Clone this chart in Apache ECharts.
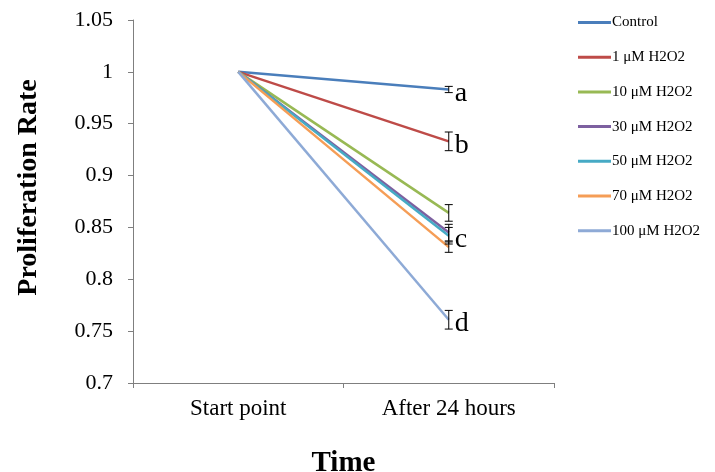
<!DOCTYPE html>
<html><head><meta charset="utf-8">
<script src="https://cdn.jsdelivr.net/npm/echarts@6/dist/echarts.min.js"></script>
<style>html,body{margin:0;padding:0;background:#fff}#c{width:715px;height:472px}</style>
</head><body><div id="c"></div>
<script>
const categories = ['Start point', 'After 24 hours'];
const seriesNames = ['Control', '1 μM H2O2', '10 μM H2O2', '30 μM H2O2', '50 μM H2O2', '70 μM H2O2', '100 μM H2O2'];
const startValues = [1, 1, 1, 1, 1, 1, 1];
const endValues = [0.983, 0.933, 0.864, 0.845, 0.842, 0.831, 0.761];
const endErrors = [0.003, 0.009, 0.008, 0.008, 0.008, 0.005, 0.009];
const groupLetters = ['a', 'b', '', '', 'c', '', 'd'];
const colors = ['#4a7ebb', '#be4b48', '#98b954', '#7d60a0', '#46aac5', '#f59d56', '#8eaad6'];
const yTicks = { min: 0.7, max: 1.05, interval: 0.05 };

const serif = 'Liberation Serif, Times New Roman, serif';
const series = seriesNames.map((name, i) => ({
  name, type: 'line', data: [startValues[i], endValues[i]],
  showSymbol: false, symbol: 'none', z: 3,
  lineStyle: { color: colors[i], width: 2.5 }, itemStyle: { color: colors[i] },
  endLabel: { show: !!groupLetters[i], formatter: () => groupLetters[i], color: '#000',
    fontFamily: serif, fontSize: 28, distance: 6, offset: [0, 4] }
}));
series.push({
  type: 'custom', name: 'err', z: 4, silent: true,
  data: endValues.map((v, i) => [1, v, endErrors[i]]),
  renderItem: (params, api) => {
    const x = api.value(0), v = api.value(1), e = api.value(2);
    const top = api.coord([x, v + e]), bot = api.coord([x, v - e]);
    const w = 4;
    const st = { stroke: '#000', lineWidth: 1 };
    return { type: 'group', children: [
      { type: 'line', shape: { x1: top[0], y1: top[1], x2: bot[0], y2: bot[1] }, style: st },
      { type: 'line', shape: { x1: top[0]-w, y1: top[1], x2: top[0]+w, y2: top[1] }, style: st },
      { type: 'line', shape: { x1: bot[0]-w, y1: bot[1], x2: bot[0]+w, y2: bot[1] }, style: st }
    ]};
  }
});

const chart = echarts.init(document.getElementById('c'));
chart.setOption({
  animation: false,
  color: colors,
  grid: { left: 133, right: 161, top: 20, bottom: 89, outerBoundsMode: 'none', containLabel: false },
  legend: {
    orient: 'vertical', left: 578, top: 15, padding: 0, itemGap: 19.7,
    data: seriesNames, icon: 'rect', itemWidth: 33, itemHeight: 3,
    textStyle: { fontFamily: serif, fontSize: 15, color: '#000', padding: [0, 0, 0, -4] }
  },
  xAxis: {
    type: 'category', data: categories, boundaryGap: true,
    name: 'Time', nameLocation: 'middle', nameGap: 66,
    nameTextStyle: { fontFamily: serif, fontSize: 29, fontWeight: 'bold', color: '#000' },
    axisLine: { lineStyle: { color: '#7f7f7f', width: 1 } },
    axisTick: { show: true, length: 5, lineStyle: { color: '#7f7f7f' } },
    axisLabel: { fontFamily: serif, fontSize: 23, color: '#000', margin: 14 }
  },
  yAxis: {
    type: 'value', min: yTicks.min, max: yTicks.max, interval: yTicks.interval,
    name: 'Proliferation Rate', nameLocation: 'middle', nameGap: 90,
    nameTextStyle: { fontFamily: serif, fontSize: 28, fontWeight: 'bold', color: '#000', padding: [0, 0, 0, 28] },
    axisLine: { show: true, lineStyle: { color: '#7f7f7f', width: 1 } },
    axisTick: { show: true, length: 5, lineStyle: { color: '#7f7f7f' } },
    splitLine: { show: false },
    axisLabel: { fontFamily: serif, fontSize: 22, color: '#000', margin: 20,
      formatter: v => String(+v.toFixed(2)) }
  },
  series
});
</script></body></html>
